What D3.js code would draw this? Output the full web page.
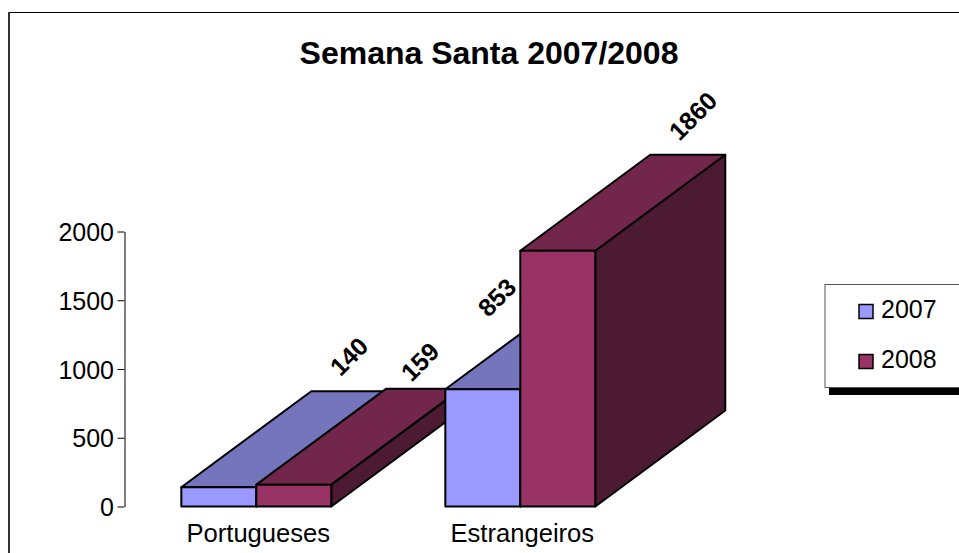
<!DOCTYPE html>
<html>
<head>
<meta charset="utf-8">
<script src="https://cdn.jsdelivr.net/npm/d3@7"></script>
<style>
  html, body { margin: 0; padding: 0; background: #fff; overflow: hidden; }
  text { font-family: "Liberation Sans", Arial, sans-serif; fill: #000; }
</style>
</head>
<body>
<div id="chart"></div>
<script>
const categories = ["Portugueses", "Estrangeiros"];
const years = ["2007", "2008"];
const values2007 = [140, 853];
const values2008 = [159, 1860];
const yTicks = [0, 500, 1000, 1500, 2000];
const titleText = "Semana Santa 2007/2008";

const colors = {
	"2007": { front: "#9999ff", top: "#7575bd", side: "#4c4c80" },
	"2008": { front: "#993366", top: "#72264c", side: "#4c1a33" }
};

const width = 959, height = 553;
// depth of the fake 3d bars
const depthX = 130, depthY = 96;

const svg = d3.select("#chart").append("svg")
	.attr("width", width)
	.attr("height", height)
	.style("display", "block");

// chart frame, right and bottom sides fall outside the picture
svg.append("path")
	.attr("d", "M9,553V12.5H959")
	.attr("fill", "none")
	.attr("stroke", "#000")
	.attr("stroke-width", 1);
svg.append("line")
	.attr("x1", 9).attr("x2", 9).attr("y1", 12).attr("y2", 553)
	.attr("stroke", "#333").attr("stroke-width", 2);

svg.append("text")
	.attr("x", 489)
	.attr("y", 64)
	.attr("text-anchor", "middle")
	.style("font-size", "32px")
	.style("font-weight", "bold")
	.text(titleText);

const x0 = d3.scaleBand()
	.domain(categories)
	.range([124.3, 652.3])
	.paddingInner(0.432)
	.paddingOuter(0.216);

const x1 = d3.scaleBand()
	.domain(years)
	.range([0, x0.bandwidth()]);

const y = d3.scaleLinear()
	.domain([0, 2000])
	.range([506.5, 231.5]);

const yAxis = d3.axisLeft(y)
	.tickValues(yTicks)
	.tickSize(7)
	.tickSizeOuter(0)
	.tickPadding(3.5)
	.tickFormat(d3.format("d"));

const yAxisG = svg.append("g")
	.attr("transform", "translate(124.5,0)")
	.call(yAxis);
yAxisG.select(".domain").attr("stroke", "#555").attr("stroke-width", 1.5);
yAxisG.selectAll(".tick text")
	.style("font-size", "25px")
	.attr("dy", "0.36em");

const bars = [];
categories.forEach((c, i) => {
	bars.push({ cat: c, year: "2007", value: values2007[i] });
	bars.push({ cat: c, year: "2008", value: values2008[i] });
});

// left to right so that later bars cover the ones before
const barG = svg.append("g").selectAll("g")
	.data(bars)
	.join("g")
	.attr("stroke", "#000")
	.attr("stroke-width", 2)
	.attr("stroke-linejoin", "round");

function pts(list) {
	return list.map(p => p.join(",")).join(" ");
}

barG.append("polygon")
	.attr("fill", d => colors[d.year].side)
	.attr("points", d => {
		let r = x0(d.cat) + x1(d.year) + x1.bandwidth();
		return pts([[r, y(d.value)], [r + depthX, y(d.value) - depthY], [r + depthX, y(0) - depthY], [r, y(0)]]);
	});

barG.append("polygon")
	.attr("fill", d => colors[d.year].top)
	.attr("points", d => {
		let l = x0(d.cat) + x1(d.year);
		let r = l + x1.bandwidth();
		return pts([[l, y(d.value)], [l + depthX, y(d.value) - depthY], [r + depthX, y(d.value) - depthY], [r, y(d.value)]]);
	});

barG.append("rect")
	.attr("fill", d => colors[d.year].front)
	.attr("x", d => x0(d.cat) + x1(d.year))
	.attr("y", d => y(d.value))
	.attr("width", x1.bandwidth())
	.attr("height", d => y(0) - y(d.value));

// data labels were placed by hand in the original, so each one has its own nudge
const labelNudge = [[0, -35], [-4, -27], [-116, 4], [5, -39]];

svg.append("g").selectAll("text")
	.data(bars)
	.join("text")
	.attr("text-anchor", "middle")
	.attr("dy", "0.36em")
	.style("font-size", "25px")
	.style("font-weight", "bold")
	.attr("transform", (d, i) => {
		let cx = x0(d.cat) + x1(d.year) + x1.bandwidth() / 2 + depthX + labelNudge[i][0];
		let cy = y(d.value) - depthY + labelNudge[i][1];
		return `translate(${cx},${cy}) rotate(-45)`;
	})
	.text(d => d.value);

svg.append("g").selectAll("text")
	.data(categories)
	.join("text")
	.attr("x", d => x0(d) + x0.bandwidth() / 2 + 2)
	.attr("y", 542)
	.attr("text-anchor", "middle")
	.style("font-size", "25.6px")
	.text(d => d);

// legend, runs off the right edge
const legend = svg.append("g");
legend.append("rect")
	.attr("x", 829).attr("y", 388)
	.attr("width", 140).attr("height", 7)
	.attr("fill", "#000");
legend.append("rect")
	.attr("x", 825).attr("y", 284.5)
	.attr("width", 150).attr("height", 103)
	.attr("fill", "#fff")
	.attr("stroke", "#555")
	.attr("stroke-width", 1);

const legendY = d3.scalePoint()
	.domain(years)
	.range([309, 359]);

const legendItem = legend.selectAll("g")
	.data(years)
	.join("g")
	.attr("transform", d => `translate(0,${legendY(d)})`);

legendItem.append("rect")
	.attr("x", 859).attr("y", -4.5)
	.attr("width", 14).attr("height", 14)
	.attr("fill", d => colors[d].front)
	.attr("stroke", "#000")
	.attr("stroke-width", 1.5);

legendItem.append("text")
	.attr("x", 881)
	.attr("dy", "0.36em")
	.style("font-size", "25px")
	.text(d => d);
</script>
</body>
</html>
